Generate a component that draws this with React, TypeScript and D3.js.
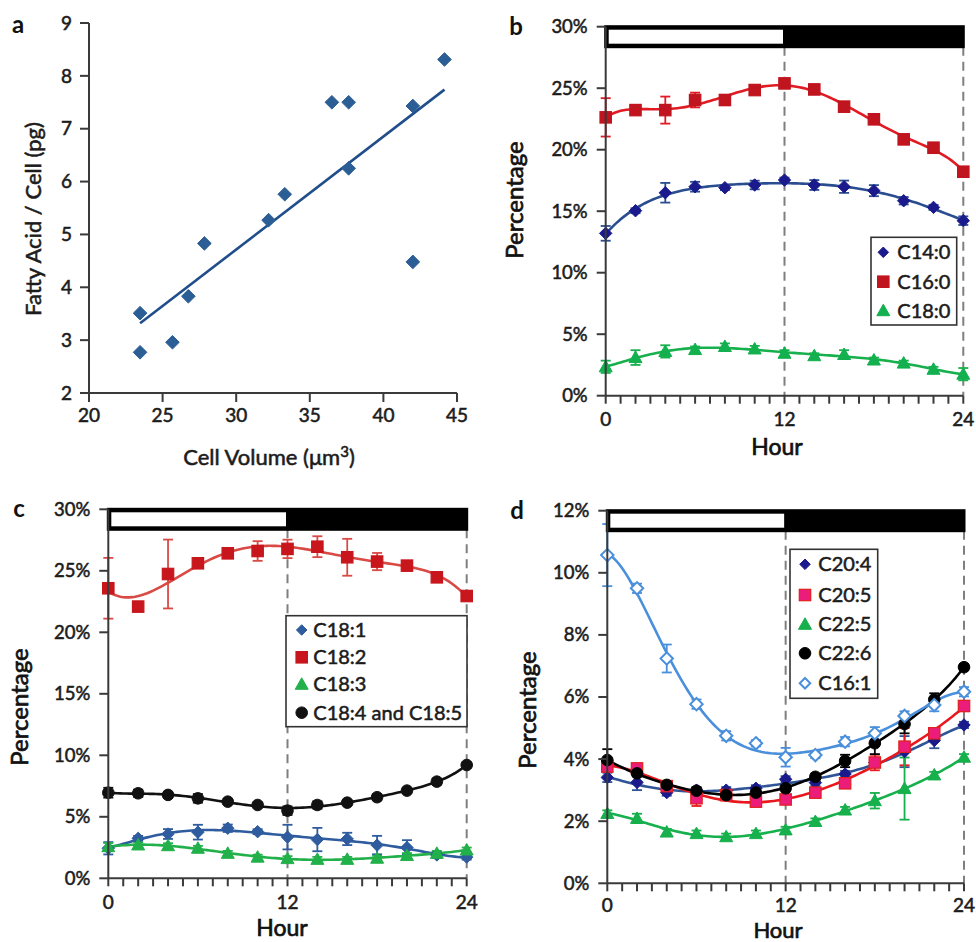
import React from "react";
import * as d3 from "d3";

// ---------------- DATA ----------------
// Panel a
const cellVolume = [23.47, 23.47, 25.67, 26.75, 27.84, 32.2, 33.3, 36.5, 37.64, 37.64, 42.0, 42.0, 44.15];
const fattyAcidPerCell = [3.51, 2.77, 2.96, 3.83, 4.83, 5.27, 5.76, 7.5, 7.5, 6.25, 7.43, 4.48, 8.31];
const volumeTicks = [20, 25, 30, 35, 40, 45];
const fattyAcidTicks = [2, 3, 4, 5, 6, 7, 8, 9];

// Shared hours
const hours = [0, 2, 4, 6, 8, 10, 12, 14, 16, 18, 20, 22, 24];
const hourTickLabels = [0, 12, 24];

// Panel b
const c14_0 = [13.2, 15.04, 16.5, 16.99, 16.91, 17.13, 17.53, 17.13, 16.99, 16.67, 15.85, 15.31, 14.23];
const c14_0Err = [0.6, 0.2, 0.8, 0.4, 0.2, 0.35, 0.2, 0.4, 0.5, 0.45, 0.3, 0.2, 0.35];
const c16_0 = [22.63, 23.22, 23.22, 24.04, 24.04, 24.85, 25.39, 24.9, 23.5, 22.47, 20.84, 20.16, 18.21];
const c16_0Err = [1.56, 0.35, 1.1, 0.6, 0.4, 0.2, 0.3, 0.3, 0.3, 0.2, 0.3, 0.4, 0.2];
const c18_0 = [2.35, 3.1, 3.6, 3.75, 4.0, 3.8, 3.45, 3.25, 3.35, 2.9, 2.65, 2.15, 1.75];
const c18_0Err = [0.5, 0.6, 0.5, 0.25, 0.25, 0.25, 0.25, 0.2, 0.35, 0.2, 0.2, 0.2, 0.5];

// Panel c
const c18_1 = [2.44, 3.25, 3.6, 3.75, 4.07, 3.79, 3.35, 3.15, 3.2, 2.7, 2.5, 1.9, 1.72];
const c18_1Err = [0.5, 0.2, 0.4, 0.6, 0.3, 0.2, 1.0, 0.95, 0.5, 0.75, 0.6, 0.25, 0.2];
const c18_2 = [23.58, 22.09, 24.74, 25.61, 26.42, 26.61, 26.78, 26.96, 26.1, 25.75, 25.42, 24.47, 22.95];
const c18_2Err = [2.47, 0.2, 2.8, 0.3, 0.3, 0.8, 0.75, 0.85, 1.5, 0.7, 0.3, 0.3, 0.2];
const c18_3 = [2.57, 2.71, 2.65, 2.44, 2.03, 1.72, 1.6, 1.54, 1.54, 1.63, 1.85, 2.03, 2.3];
const c18_3Err = [0.3, 0.2, 0.2, 0.2, 0.2, 0.2, 0.2, 0.2, 0.2, 0.2, 0.2, 0.2, 0.2];
const c18_45 = [6.96, 6.91, 6.78, 6.5, 6.23, 5.96, 5.5, 5.96, 6.15, 6.59, 7.13, 7.86, 9.21];
const c18_45Err = [0.4, 0.3, 0.25, 0.35, 0.2, 0.2, 0.35, 0.3, 0.2, 0.25, 0.2, 0.25, 0.2];

// Panel d
const c20_4 = [3.41, 3.25, 2.92, 3.0, 3.0, 3.06, 3.35, 3.24, 3.52, 3.89, 4.24, 4.6, 5.1];
const c20_4Err = [0.15, 0.25, 0.1, 0.1, 0.1, 0.1, 0.1, 0.1, 0.1, 0.15, 0.5, 0.25, 0.1];
const c20_5 = [3.76, 3.7, 3.13, 2.74, 2.84, 2.63, 2.7, 2.92, 3.22, 3.89, 4.4, 4.83, 5.71];
const c20_5Err = [0.15, 0.15, 0.1, 0.25, 0.1, 0.1, 0.15, 0.1, 0.15, 0.25, 0.6, 0.15, 0.15];
const c22_5 = [2.25, 2.09, 1.65, 1.6, 1.5, 1.6, 1.72, 1.99, 2.36, 2.66, 3.05, 3.49, 4.06];
const c22_5Err = [0.1, 0.15, 0.1, 0.1, 0.1, 0.1, 0.1, 0.1, 0.1, 0.25, 1.0, 0.1, 0.1];
const c22_6 = [3.97, 3.54, 3.17, 2.98, 2.84, 2.92, 3.06, 3.43, 3.94, 4.51, 5.13, 5.92, 6.96];
const c22_6Err = [0.35, 0.1, 0.1, 0.1, 0.1, 0.1, 0.1, 0.1, 0.2, 0.35, 0.3, 0.2, 0.1];
const c16_1 = [10.57, 9.5, 7.24, 5.77, 4.75, 4.51, 4.06, 4.13, 4.56, 4.83, 5.39, 5.74, 6.17];
const c16_1Err = [1.0, 0.15, 0.45, 0.15, 0.15, 0.1, 0.3, 0.1, 0.15, 0.2, 0.15, 0.2, 0.15];

// ---------------- HELPERS ----------------
const FONT = "Lato, 'Open Sans', sans-serif";
const AXIS = "#3a3a3a";
const TXT = "#1c1c1c";
const thick = { stroke: TXT, strokeWidth: 0.55 };

function polyfit(xs: number[], ys: number[], order: number) {
  const n = order + 1;
  const M = Array.from({ length: n }, () => new Array(n + 1).fill(0));
  xs.forEach((xv, k) => {
    const t = (xv - 12) / 12;
    const pw: number[] = [];
    let p = 1;
    for (let i = 0; i < 2 * n; i++) { pw.push(p); p *= t; }
    for (let i = 0; i < n; i++) {
      for (let j = 0; j < n; j++) M[i][j] += pw[i + j];
      M[i][n] += pw[i] * ys[k];
    }
  });
  for (let c = 0; c < n; c++) {
    let piv = c;
    for (let r = c + 1; r < n; r++) if (Math.abs(M[r][c]) > Math.abs(M[piv][c])) piv = r;
    const tmp = M[c]; M[c] = M[piv]; M[piv] = tmp;
    for (let r = 0; r < n; r++) {
      if (r === c) continue;
      const f = M[r][c] / M[c][c];
      for (let k = c; k <= n; k++) M[r][k] -= f * M[c][k];
    }
  }
  const coef = M.map((row, i) => row[n] / row[i]);
  return (xv: number) => {
    const t = (xv - 12) / 12;
    let s = 0, p = 1;
    for (const c of coef) { s += c * p; p *= t; }
    return s;
  };
}

function Marker({ type, x, y, fill, stroke, size = 1 }: any) {
  if (type === "diamond" || type === "openDiamond") {
    const r = 6.2 * size;
    return (
      <path
        d={`M${x},${y - r}L${x + r},${y}L${x},${y + r}L${x - r},${y}Z`}
        fill={type === "openDiamond" ? "#fff" : fill}
        stroke={stroke}
        strokeWidth={type === "openDiamond" ? 2 : 1}
      />
    );
  }
  if (type === "square") {
    const h = 5.7;
    return <rect x={x - h} y={y - h} width={2 * h} height={2 * h} fill={fill} stroke={stroke} strokeWidth={1.2} />;
  }
  if (type === "triangle") {
    return (
      <path d={`M${x},${y - 6.5}L${x + 6.5},${y + 5}L${x - 6.5},${y + 5}Z`} fill={fill} stroke={stroke} strokeWidth={1} />
    );
  }
  return <circle cx={x} cy={y} r={5.8} fill={fill} stroke={stroke} strokeWidth={1} />;
}

function ScatterPanel() {
  const left = 89, right = 457, top = 23, bottom = 393;
  const x = d3.scaleLinear().domain([20, 45]).range([left, right]);
  const y = d3.scaleLinear().domain([2, 9]).range([bottom, top]);
  const mx = d3.mean(cellVolume) as number;
  const my = d3.mean(fattyAcidPerCell) as number;
  let sxy = 0, sxx = 0;
  cellVolume.forEach((v, i) => { sxy += (v - mx) * (fattyAcidPerCell[i] - my); sxx += (v - mx) ** 2; });
  const slope = sxy / sxx;
  const intercept = my - slope * mx;
  const [x0, x1] = d3.extent(cellVolume) as [number, number];
  return (
    <g fontFamily={FONT}>
      <line x1={x(x0)} y1={y(intercept + slope * x0)} x2={x(x1)} y2={y(intercept + slope * x1)} stroke="#1F4E8A" strokeWidth={2.6} />
      {cellVolume.map((v, i) => (
        <Marker key={i} type="diamond" size={1.1} x={x(v)} y={y(fattyAcidPerCell[i])} fill="#2C5E96" stroke="#2C5E96" />
      ))}
      <line x1={left} y1={top} x2={left} y2={bottom} stroke={AXIS} strokeWidth={2} />
      <line x1={left} y1={bottom} x2={right} y2={bottom} stroke={AXIS} strokeWidth={2} />
      {fattyAcidTicks.map((t) => (
        <g key={t}>
          <line x1={left - 9} x2={left} y1={y(t)} y2={y(t)} stroke={AXIS} strokeWidth={2} />
          <text x={left - 17} y={y(t)} dy="0.35em" textAnchor="end" fontSize={19} fill={TXT} {...thick}>{t}</text>
        </g>
      ))}
      {volumeTicks.map((t) => (
        <g key={t}>
          <line x1={x(t)} x2={x(t)} y1={bottom} y2={bottom + 9} stroke={AXIS} strokeWidth={2} />
          <text x={x(t)} y={bottom + 22} dy="0.35em" textAnchor="middle" fontSize={19} fill={TXT} {...thick}>{t}</text>
        </g>
      ))}
      <text transform={`translate(33,219) rotate(-90)`} textAnchor="middle" dy="0.35em" fontSize={22} fill={TXT} {...thick}>
        Fatty Acid / Cell (pg)
      </text>
      <text x={269} y={457} dy="0.35em" textAnchor="middle" fontSize={22} fill={TXT} {...thick}>
        Cell Volume (μm<tspan dy="-8" fontSize={15}>3</tspan><tspan dy="8">)</tspan>
      </text>
      <text x={18} y={25} dy="0.35em" textAnchor="middle" fontSize={24} fontWeight="bold" fill="#111">a</text>
    </g>
  );
}

function HourPanel({ box, yMax, yStep, series, legend, letter, letterPos, yTitlePos, xTitlePos, tickOffset = 24, hourSize = 23 }: any) {
  const x = d3.scaleLinear().domain([0, 24]).range([box.left, box.right]);
  const y = d3.scaleLinear().domain([0, yMax]).range([box.bottom, box.top]);
  const yTicks = d3.range(0, yMax + yStep / 2, yStep);
  const minor = d3.range(0, 25);
  const barTop = y(yMax);
  const barBot = barTop + 20;
  const fine = d3.range(0, 24.0001, 0.2);
  return (
    <g fontFamily={FONT}>
      {[12, 24].map((h) => (
        <line key={h} x1={x(h)} x2={x(h)} y1={barBot} y2={box.bottom} stroke="#7f7f7f" strokeWidth={2} strokeDasharray="9,6" />
      ))}
      {series.map((s: any, si: number) => {
        const f = polyfit(hours, s.values, s.order ?? 6);
        const path = d3.line<number>().x((h) => x(h)).y((h) => y(f(h)))(fine) as string;
        return (
          <g key={si}>
            {hours.map((h, i) => {
              const e = s.errors[i];
              const v = s.values[i];
              return (
                <g key={i} stroke={s.color} strokeWidth={1.8}>
                  <line x1={x(h)} x2={x(h)} y1={y(v - e)} y2={y(v + e)} />
                  <line x1={x(h) - 5} x2={x(h) + 5} y1={y(v - e)} y2={y(v - e)} />
                  <line x1={x(h) - 5} x2={x(h) + 5} y1={y(v + e)} y2={y(v + e)} />
                </g>
              );
            })}
            <path d={path} fill="none" stroke={s.color} strokeWidth={2.6} />
          </g>
        );
      })}
      {series.map((s: any, si: number) => (
        <g key={si}>
          {hours.map((h, i) => (
            <Marker key={i} type={s.marker} x={x(h)} y={y(s.values[i])} fill={s.markerFill} stroke={s.markerStroke} />
          ))}
        </g>
      ))}
      {/* light/dark bar */}
      <rect x={x(0)} y={barTop} width={x(24) - x(0)} height={barBot - barTop} fill="#000" stroke="#000" strokeWidth={3} />
      <rect x={x(0) + 1.5} y={barTop + 1.5} width={x(12) - x(0) - 1.5} height={barBot - barTop - 3} fill="#fff" stroke="#000" strokeWidth={3} />
      {/* axes */}
      <line x1={box.left} y1={barTop} x2={box.left} y2={box.bottom} stroke={AXIS} strokeWidth={2} />
      <line x1={box.left} y1={box.bottom} x2={box.right} y2={box.bottom} stroke={AXIS} strokeWidth={2} />
      {yTicks.map((t: number) => (
        <g key={t}>
          <line x1={box.left - 9} x2={box.left} y1={y(t)} y2={y(t)} stroke={AXIS} strokeWidth={2} />
          <text x={box.left - 18} y={y(t)} dy="0.35em" textAnchor="end" fontSize={18.5} fill={TXT} {...thick}>{`${Math.round(t)}%`}</text>
        </g>
      ))}
      {minor.map((t: number) => (
        <line key={t} x1={x(t)} x2={x(t)} y1={box.bottom} y2={box.bottom + 8} stroke={AXIS} strokeWidth={2} />
      ))}
      {hourTickLabels.map((t) => (
        <text key={t} x={x(t)} y={box.bottom + tickOffset} dy="0.35em" textAnchor="middle" fontSize={19} fill={TXT} {...thick}>{t}</text>
      ))}
      <text x={xTitlePos[0]} y={xTitlePos[1]} dy="0.35em" textAnchor="middle" fontSize={hourSize} fill="#111" stroke="#111" strokeWidth={0.7}>Hour</text>
      <text transform={`translate(${yTitlePos[0]},${yTitlePos[1]}) rotate(-90)`} dy="0.35em" textAnchor="middle" fontSize={24} fill="#111" stroke="#111" strokeWidth={0.7}>
        Percentage
      </text>
      {/* legend */}
      <rect x={legend.x} y={legend.y} width={legend.w} height={legend.h} fill="#fff" stroke="#333" strokeWidth={1.6} />
      {series.map((s: any, si: number) => {
        const ry = legend.rows[si];
        return (
          <g key={si}>
            <Marker type={s.marker} size={0.85} x={legend.markerX} y={ry} fill={s.markerFill} stroke={s.markerStroke} />
            <text x={legend.textX} y={ry} dy="0.35em" fontSize={20} fill={TXT} {...thick}>{s.label}</text>
          </g>
        );
      })}
      <text x={letterPos[0]} y={letterPos[1]} dy="0.35em" textAnchor="middle" fontSize={24} fontWeight="bold" fill="#111">{letter}</text>
    </g>
  );
}

export default function App() {
  const seriesB = [
    { label: "C14:0", values: c14_0, errors: c14_0Err, marker: "diamond", color: "#2A4D8F", markerFill: "#1A1A8C", markerStroke: "#1A1A8C" },
    { label: "C16:0", values: c16_0, errors: c16_0Err, marker: "square", color: "#E01B24", markerFill: "#C0141E", markerStroke: "#C0141E" },
    { label: "C18:0", values: c18_0, errors: c18_0Err, marker: "triangle", color: "#18B04C", markerFill: "#12B04E", markerStroke: "#12B04E" },
  ];
  const seriesC = [
    { label: "C18:1", values: c18_1, errors: c18_1Err, marker: "diamond", color: "#2E5C9E", markerFill: "#2E5C9E", markerStroke: "#2E5C9E" },
    { label: "C18:2", values: c18_2, errors: c18_2Err, marker: "square", color: "#D94A45", markerFill: "#C8161D", markerStroke: "#C8161D", order: 5 },
    { label: "C18:3", values: c18_3, errors: c18_3Err, marker: "triangle", color: "#22B04A", markerFill: "#22B04A", markerStroke: "#22B04A" },
    { label: "C18:4 and C18:5", values: c18_45, errors: c18_45Err, marker: "circle", color: "#111", markerFill: "#111", markerStroke: "#111" },
  ];
  const seriesD = [
    { label: "C20:4", values: c20_4, errors: c20_4Err, marker: "diamond", color: "#2F5597", markerFill: "#1A1A8C", markerStroke: "#1A1A8C" },
    { label: "C20:5", values: c20_5, errors: c20_5Err, marker: "square", color: "#E8181E", markerFill: "#EC1C7A", markerStroke: "#E0201C" },
    { label: "C22:5", values: c22_5, errors: c22_5Err, marker: "triangle", color: "#16B04C", markerFill: "#16B04C", markerStroke: "#16B04C" },
    { label: "C22:6", values: c22_6, errors: c22_6Err, marker: "circle", color: "#000", markerFill: "#000", markerStroke: "#000" },
    { label: "C16:1", values: c16_1, errors: c16_1Err, marker: "openDiamond", color: "#4A8FDB", markerFill: "#fff", markerStroke: "#4A8FDB" },
  ];
  return (
    <svg width={976} height={942} style={{ position: "absolute", left: 0, top: 0, background: "#fff" }}>
      <rect width={976} height={942} fill="#fff" />
      <ScatterPanel />
      <HourPanel
        box={{ left: 605.7, right: 963.3, top: 26.7, bottom: 395.7 }}
        yMax={30} yStep={5} series={seriesB}
        legend={{ x: 871, y: 237.3, w: 85.7, h: 87.7, rows: [252.3, 281.7, 310.7], markerX: 883.3, textX: 897.3 }}
        letter="b" letterPos={[516, 27]} yTitlePos={[515, 200]} xTitlePos={[777, 447]}
      />
      <HourPanel
        box={{ left: 108.3, right: 466.7, top: 509.3, bottom: 878.3 }}
        yMax={30} yStep={5} series={seriesC}
        legend={{ x: 286, y: 615.7, w: 181, h: 111, rows: [630, 657.3, 684.3, 712.7], markerX: 301.7, textX: 313.3 }}
        letter="c" letterPos={[19, 509]} yTitlePos={[20, 707]} xTitlePos={[282, 928]}
      />
      <HourPanel
        box={{ left: 607.3, right: 964, top: 510.7, bottom: 883.3 }}
        yMax={12} yStep={2} series={seriesD}
        legend={{ x: 790, y: 549.3, w: 87.7, h: 149, rows: [564.3, 595, 624.3, 653.3, 683.3], markerX: 805, textX: 818.3 }}
        letter="d" letterPos={[517, 511]} yTitlePos={[528, 710]} xTitlePos={[778, 930]}
        tickOffset={22} hourSize={22}
      />
    </svg>
  );
}
